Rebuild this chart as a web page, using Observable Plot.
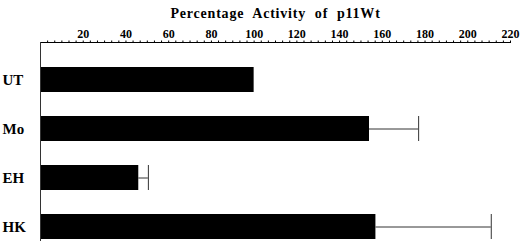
<!DOCTYPE html>
<html>
<head>
<meta charset="utf-8">
<script src="https://cdn.jsdelivr.net/npm/d3@7"></script>
<script src="https://cdn.jsdelivr.net/npm/@observablehq/plot@0.6"></script>
<style>
  html, body { margin: 0; padding: 0; background: #fff; }
  .ttl text { letter-spacing: 0.8px; word-spacing: 4.5px; }
</style>
</head>
<body>
<div id="chart"></div>
<script>
const title = "Percentage Activity of p11Wt";
const categories = ["UT", "Mo", "EH", "HK"];
const values = [100, 154, 46, 157];
const errorHigh = [null, 177, 50.5, 211];
const majorTicks = [20, 40, 60, 80, 100, 120, 140, 160, 180, 200, 220];
const minorStep = 20 / 6;

const data = categories.map((c, i) => ({cat: c, value: values[i], hi: errorHigh[i]}));
const errData = data.filter(d => d.hi != null);
const minorTicks = d3.range(1, 67).map(i => i * minorStep);

const font = '"Liberation Serif", "DejaVu Serif", "Times New Roman", serif';

const chart = Plot.plot({
  width: 520,
  height: 241,
  marginTop: 42,
  marginLeft: 40,
  marginRight: 10,
  marginBottom: 0,
  style: {fontFamily: font, fontWeight: "bold", background: "#fff", color: "#000", overflow: "visible"},
  x: {domain: [0, 220]},
  y: {domain: categories, range: [54.35, 251.65], paddingInner: 0.49, paddingOuter: 0.245},
  marks: [
    Plot.barX(data, {x: "value", y: "cat", fill: "#000"}),
    Plot.ruleY(errData, {x1: "value", x2: "hi", y: "cat", stroke: "#333", strokeWidth: 1}),
    Plot.tickX(errData, {x: "hi", y: "cat", stroke: "#333", strokeWidth: 1}),
    Plot.frame({anchor: "top", stroke: "#000"}),
    Plot.frame({anchor: "left", stroke: "#333"}),
    Plot.axisX({anchor: "top", ticks: minorTicks, tickSize: 2.5, text: null, stroke: "#000"}),
    Plot.axisX({anchor: "top", ticks: majorTicks, tickSize: 0, tickPadding: 5, fontSize: 12, fontWeight: "bold", label: null, tickFormat: d => String(d)}),
    Plot.axisY({ticks: [], label: null, tickSize: 0}),
    Plot.text(categories, {y: d => d, frameAnchor: "left", dx: -38, textAnchor: "start", fontSize: 15, fontWeight: "bold"}),
    Plot.text([title], {frameAnchor: "top", dy: -34, fontSize: 14, fontWeight: "bold", className: "ttl"})
  ]
});
document.getElementById("chart").appendChild(chart);
</script>
</body>
</html>
